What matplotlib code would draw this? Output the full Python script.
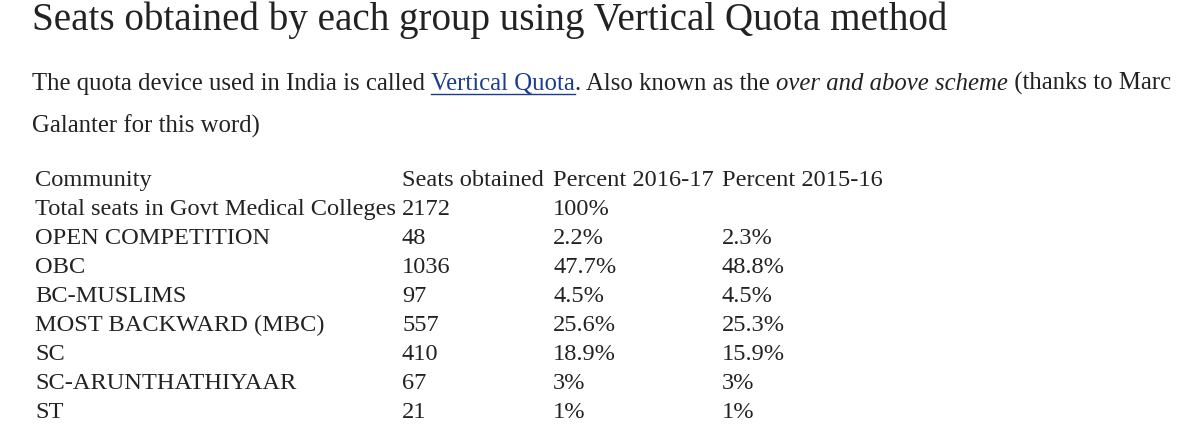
import matplotlib.pyplot as plt
from matplotlib.lines import Line2D

# table data
header = ['Community', 'Seats obtained', 'Percent 2016-17', 'Percent 2015-16']
communities = ['Total seats in Govt Medical Colleges', 'OPEN COMPETITION', 'OBC', 'BC-MUSLIMS',
               'MOST BACKWARD (MBC)', 'SC', 'SC-ARUNTHATHIYAAR', 'ST']
seats = ['2172', '48', '1036', '97', '557', '410', '67', '21']
pct_1617 = ['100%', '2.2%', '47.7%', '4.5%', '25.6%', '18.9%', '3%', '1%']
pct_1516 = ['', '2.3%', '48.8%', '4.5%', '25.3%', '15.9%', '3%', '1%']

W, H = 1200, 434
fig = plt.figure(figsize=(12, 4.34), dpi=100)
fig.patch.set_facecolor('white')
FONT = 'Liberation Serif'

def px(x, y):
    return x / W, 1 - y / H

def put(x, y, s, size=17.6, style='normal', color='#222222'):
    t = fig.text(*px(x, y), s, fontsize=size, fontfamily=FONT, style=style,
                 color=color, va='baseline', ha='left')
    return t

fig.text(*px(32, 30), 'Seats obtained by each group using Vertical Quota method',
         fontsize=28.2, fontfamily=FONT, color='#222222', va='baseline')

# paragraph with link and italic segments
renderer = fig.canvas.get_renderer()
segments = [('The quota device used in India is called ', 'normal', '#222222', False),
            ('Vertical Quota', 'normal', '#1a3d8f', True),
            ('. Also known as the ', 'normal', '#222222', False),
            ('over and above scheme', 'italic', '#222222', False),
            (' (thanks to Marc', 'normal', '#222222', False)]
x = 32
for s, st, col, ul in segments:
    t = put(x, 90, s, size=17.8, style=st, color=col)
    w = t.get_window_extent(renderer).width
    if ul:
        fig.add_artist(Line2D([x / W, (x + w) / W], [1 - 94 / H] * 2, color=col, lw=1))
    x += w
put(32, 133, 'Galanter for this word)', size=17.8)

cols = [35, 402, 553, 722]
rows_y = [186, 215, 244, 273, 302, 331, 360, 389, 418]
for cx, h in zip(cols, header):
    put(cx, rows_y[0], h)
for i, y in enumerate(rows_y[1:]):
    for cx, v in zip(cols, [communities[i], seats[i], pct_1617[i], pct_1516[i]]):
        put(cx, y, v)

fig.savefig('out.png', dpi=100, facecolor='white')
